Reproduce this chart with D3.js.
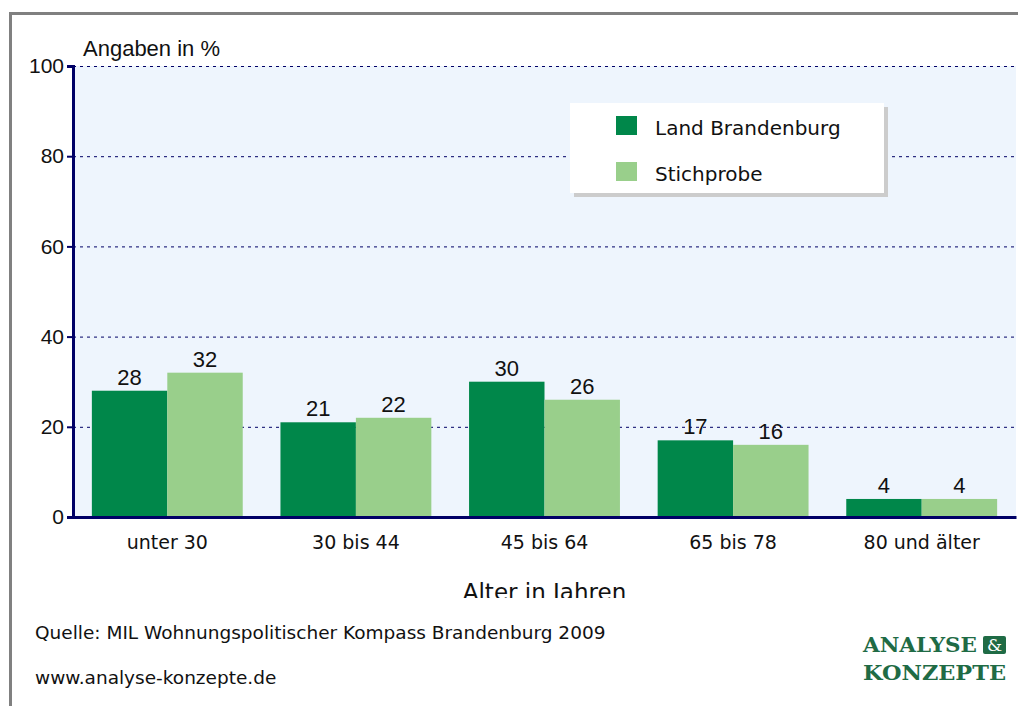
<!DOCTYPE html>
<html>
<head>
<meta charset="utf-8">
<script src="https://cdn.jsdelivr.net/npm/d3@7"></script>
<style>
  body { margin: 0; background: #fff; }
  svg { display: block; }
  .grid line { stroke: #000066; stroke-dasharray: 3,4; }
  .grid path { display: none; }
</style>
</head>
<body>
<div id="chart"></div>
<script>
// data
var categories = ['unter 30', '30 bis 44', '45 bis 64', '65 bis 78', '80 und älter'];
var seriesNames = ['Land Brandenburg', 'Stichprobe'];
var brandenburg = [28, 21, 30, 17, 4];
var stichprobe = [32, 22, 26, 16, 4];
var yTicks = [0, 20, 40, 60, 80, 100];
var colors = ['#00874a', '#99cf8b'];

var W = 1018, H = 706;
var margin = {top: 66, right: 2, bottom: 189, left: 73},
    width = W - margin.left - margin.right,
    height = H - margin.top - margin.bottom;

var svg = d3.select('#chart').append('svg')
    .attr('width', W)
    .attr('height', H);

// outer frame (top + left)
svg.append('path')
    .attr('d', 'M10.5,' + H + 'V13.5H' + W)
    .attr('fill', 'none')
    .attr('stroke', '#808080')
    .attr('stroke-width', 3);

var g = svg.append('g')
    .attr('transform', 'translate(' + margin.left + ',' + margin.top + ')');

var x0 = d3.scaleBand()
    .domain(categories)
    .range([0, width])
    .paddingInner(0.2)
    .paddingOuter(0.1);

var x1 = d3.scaleBand()
    .domain(seriesNames)
    .range([0, x0.bandwidth()]);

var y = d3.scaleLinear()
    .domain([0, 100])
    .range([height, 0]);

// background
g.append('rect')
    .attr('width', width)
    .attr('height', height)
    .attr('fill', '#eef5fd');

// gridlines
g.append('g')
    .attr('class', 'grid')
    .call(d3.axisLeft(y).tickValues(yTicks.slice(1)).tickSize(-width).tickFormat(''));

var rows = categories.map(function(c, i) {
  return {cat: c, vals: [brandenburg[i], stichprobe[i]]};
});

var groups = g.selectAll('.group')
    .data(rows)
  .enter().append('g')
    .attr('class', 'group')
    .attr('transform', function(d) { return 'translate(' + x0(d.cat) + ',0)'; });

groups.selectAll('rect')
    .data(function(d) { return d.vals.map(function(v, i) { return {s: seriesNames[i], v: v, i: i}; }); })
  .enter().append('rect')
    .attr('x', function(d) { return x1(d.s); })
    .attr('y', function(d) { return y(d.v); })
    .attr('width', x1.bandwidth())
    .attr('height', function(d) { return height - y(d.v); })
    .attr('fill', function(d) { return colors[d.i]; });

groups.selectAll('text')
    .data(function(d) { return d.vals.map(function(v, i) { return {s: seriesNames[i], v: v}; }); })
  .enter().append('text')
    .attr('x', function(d) { return x1(d.s) + x1.bandwidth() / 2; })
    .attr('y', function(d) { return y(d.v) - 6; })
    .attr('text-anchor', 'middle')
    .style('font-family', 'Liberation Sans, Arial, sans-serif')
    .style('font-size', '22px')
    .attr('fill', '#111')
    .text(function(d) { return d.v; });

// y axis
var yAxis = g.append('g')
    .call(d3.axisLeft(y).tickValues(yTicks).tickSize(6).tickPadding(3));
yAxis.select('.domain').attr('stroke', '#000066').attr('stroke-width', 3);
yAxis.selectAll('.tick line').attr('stroke', '#000066').attr('stroke-width', 2);
yAxis.selectAll('.tick text')
    .style('font-family', 'Liberation Sans, Arial, sans-serif')
    .style('font-size', '21px')
    .attr('fill', '#111');

// x axis
var xAxis = g.append('g')
    .attr('transform', 'translate(0,' + height + ')')
    .call(d3.axisBottom(x0).tickSize(0).tickPadding(19));
xAxis.select('.domain').attr('stroke', '#000066').attr('stroke-width', 3);
xAxis.selectAll('.tick text')
    .style('font-family', 'DejaVu Sans, sans-serif')
    .style('font-size', '19px')
    .attr('fill', '#111');

// titles
svg.append('text')
    .attr('x', 83).attr('y', 56)
    .style('font-family', 'Liberation Sans, Arial, sans-serif')
    .style('font-size', '22px')
    .attr('fill', '#111')
    .text('Angaben in %');

svg.append('clipPath').attr('id', 'cut')
  .append('rect').attr('x', 0).attr('y', 0).attr('width', W).attr('height', 598);

svg.append('text')
    .attr('x', margin.left + width / 2).attr('y', 600)
    .attr('text-anchor', 'middle')
    .attr('clip-path', 'url(#cut)')
    .style('font-family', 'DejaVu Sans, sans-serif')
    .style('font-size', '23px')
    .attr('fill', '#111')
    .text('Alter in Jahren');

// legend
var lg = svg.append('g').attr('transform', 'translate(570,103)');
lg.append('rect').attr('x', 4).attr('y', 4).attr('width', 314).attr('height', 90).attr('fill', '#cccccc');
lg.append('rect').attr('width', 314).attr('height', 90).attr('fill', '#fff');
seriesNames.forEach(function(name, i) {
  lg.append('rect')
      .attr('x', 46).attr('y', 13 + i * 46)
      .attr('width', 21).attr('height', 19)
      .attr('fill', colors[i]);
  lg.append('text')
      .attr('x', 85).attr('y', 32 + i * 46)
      .style('font-family', 'DejaVu Sans, sans-serif')
      .style('font-size', '20px')
      .attr('fill', '#111')
      .text(name);
});

// footer
svg.append('text')
    .attr('x', 35).attr('y', 639)
    .style('font-family', 'DejaVu Sans, sans-serif')
    .style('font-size', '18.5px')
    .attr('fill', '#111')
    .text('Quelle: MIL Wohnungspolitischer Kompass Brandenburg 2009');

svg.append('text')
    .attr('x', 35).attr('y', 684)
    .style('font-family', 'DejaVu Sans, sans-serif')
    .style('font-size', '18.5px')
    .attr('fill', '#111')
    .text('www.analyse-konzepte.de');

// logo
var logo = svg.append('g').attr('transform', 'translate(863,0)');
logo.append('text')
    .attr('x', 0).attr('y', 652)
    .attr('textLength', 114)
    .attr('lengthAdjust', 'spacingAndGlyphs')
    .style('font-family', 'DejaVu Serif, serif')
    .style('font-weight', 'bold')
    .style('font-size', '21px')
    .attr('fill', '#1f6b45')
    .text('ANALYSE');
logo.append('rect')
    .attr('x', 120).attr('y', 636).attr('width', 23).attr('height', 18)
    .attr('rx', 2)
    .attr('fill', '#1f6b45');
logo.append('text')
    .attr('x', 131.5).attr('y', 651)
    .attr('text-anchor', 'middle')
    .style('font-family', 'DejaVu Serif, serif')
    .style('font-size', '17px')
    .attr('fill', '#fff')
    .text('&');
logo.append('text')
    .attr('x', 0).attr('y', 680)
    .attr('textLength', 143)
    .attr('lengthAdjust', 'spacingAndGlyphs')
    .style('font-family', 'DejaVu Serif, serif')
    .style('font-weight', 'bold')
    .style('font-size', '21px')
    .attr('fill', '#1f6b45')
    .text('KONZEPTE');
</script>
</body>
</html>
